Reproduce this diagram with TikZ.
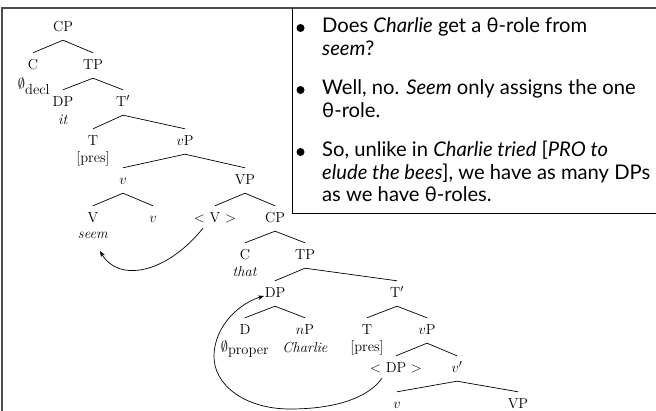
\documentclass[tikz,border=0pt]{standalone}
\usepackage{fontspec}
\newfontfamily\boxfont{Lato}
\usetikzlibrary{arrows.meta}
\DeclareMathSizes{14.5}{14.5}{11}{8}
\newcommand\tbranch[2]{\draw[brl] ([yshift=-8pt]#1.south) -- ([yshift=7pt]#2.north);}
\begin{document}
\begin{tikzpicture}[x=1pt,y=-1pt,
  lab/.style={anchor=base, inner sep=0pt, text height=10pt, text depth=0pt, font=\fontsize{14.5}{17}\selectfont},
  sub/.style={anchor=base, inner sep=0pt, font=\fontsize{14.5}{17}\selectfont},
  brl/.style={line width=0.7pt},
  mv/.style={line width=0.7pt, -{Stealth[length=6pt,width=4.5pt]}},
  frame/.style={line width=1.3pt, black!70},
  boxline/.style={line width=0.8pt, black},
  bul/.style={circle, fill, inner sep=0pt, minimum size=8pt},
  btxt/.style={anchor=base west, inner sep=0pt, font=\boxfont\fontsize{20.2}{22}\selectfont}
]
\useasboundingbox (0,0) rectangle (656,411);
% frames
\draw[frame] (2,420) -- (2,8) -- (665,8);
\draw[boxline] (292,8) -- (292,213) -- (665,213);
% text box
\node[bul] (b1) at (300.5,28) {};
\node[bul] (b2) at (300.5,90) {};
\node[bul] (b3) at (300.5,152) {};
\node[btxt] (t1a) at (322,33) {Does \textit{Charlie} get a θ-role from};
\node[btxt] (t1b) at (322,55.5) {\textit{seem}?};
\node[btxt] (t2a) at (322,95) {Well, no. \textit{Seem} only assigns the one};
\node[btxt] (t2b) at (322,117.5) {θ-role.};
\node[btxt] (t3a) at (322,157) {So, unlike in \textit{Charlie tried} [\textit{PRO to}};
\node[btxt] (t3b) at (322,179.5) {\textit{elude the bees}], we have as many DPs};
\node[btxt] (t3c) at (322,202) {as we have θ-roles.};
% tree labels
\node[lab] (cpA) at (63,32) {CP};
\node[lab] (cA) at (33,70) {C};
\node[lab] (tpA) at (93,70) {TP};
\node[sub] (decl) at (34,89) {$\emptyset_{\mbox{decl}}$};
\node[lab] (dpA) at (63,107) {DP};
\node[lab] (tbarA) at (123,107) {T$'$};
\node[sub] (itA) at (63,125) {\textit{it}};
\node[lab] (tA) at (93,146) {T};
\node[lab] (vpA) at (185,146) {$v$P};
\node[sub] (presA) at (93,163) {[pres]};
\node[lab] (vA) at (123,185) {$v$};
\node[lab] (vpB) at (245,185) {VP};
\node[lab] (VA) at (93,223) {V};
\node[lab] (vsm) at (153,223) {$v$};
\node[lab] (tVA) at (215,223) {$<$ V $>$};
\node[lab] (cpB) at (275,223) {CP};
\node[sub] (seem) at (93,239) {\textit{seem}};
\node[lab] (cB) at (245,260) {C};
\node[lab] (tpB) at (305,260) {TP};
\node[sub] (thatB) at (245,277) {\textit{that}};
\node[lab] (dpB) at (275,298) {DP};
\node[lab] (tbarB) at (397,298) {T$'$};
\node[lab] (dB) at (245,335) {D};
\node[lab] (npB) at (305,335) {$n$P};
\node[lab] (tB) at (367,335) {T};
\node[lab] (vpC) at (427,335) {$v$P};
\node[sub] (proper) at (245,352) {$\emptyset_{\mbox{proper}}$};
\node[sub] (charlie) at (305,353) {\textit{Charlie}};
\node[sub] (presB) at (367,352) {[pres]};
\node[lab] (tDP) at (396,373) {$<$ DP $>$};
\node[lab] (vbarB) at (457,373) {$v'$};
\node[lab] (vB) at (397,409) {$v$};
\node[lab] (vpD) at (518,409) {VP};
% branches
\tbranch{cpA}{cA}\tbranch{cpA}{tpA}
\tbranch{tpA}{dpA}\tbranch{tpA}{tbarA}
\tbranch{tbarA}{tA}\tbranch{tbarA}{vpA}
\tbranch{vpA}{vA}\tbranch{vpA}{vpB}
\tbranch{vA}{VA}\tbranch{vA}{vsm}
\tbranch{vpB}{tVA}\tbranch{vpB}{cpB}
\tbranch{cpB}{cB}\tbranch{cpB}{tpB}
\tbranch{tpB}{dpB}\tbranch{tpB}{tbarB}
\tbranch{dpB}{dB}\tbranch{dpB}{npB}
\tbranch{tbarB}{tB}\tbranch{tbarB}{vpC}
\tbranch{vpC}{tDP}\tbranch{vpC}{vbarB}
\tbranch{vbarB}{vB}\tbranch{vbarB}{vpD}
% movement arrows
\draw[mv] ([xshift=-12pt,yshift=-5pt]tVA.south) .. controls (165,275) and (118,282) .. ([xshift=7pt,yshift=-12pt]seem.base);
\draw[mv] ([xshift=-14pt,yshift=-5pt]tDP.south) .. controls (368,398) and (335,409) .. (290,409) .. controls (245,409) and (213,385) .. (214,355) .. controls (215,325) and (240,303) .. ([xshift=-11pt,yshift=2pt]dpB.base);
\end{tikzpicture}
\end{document}
